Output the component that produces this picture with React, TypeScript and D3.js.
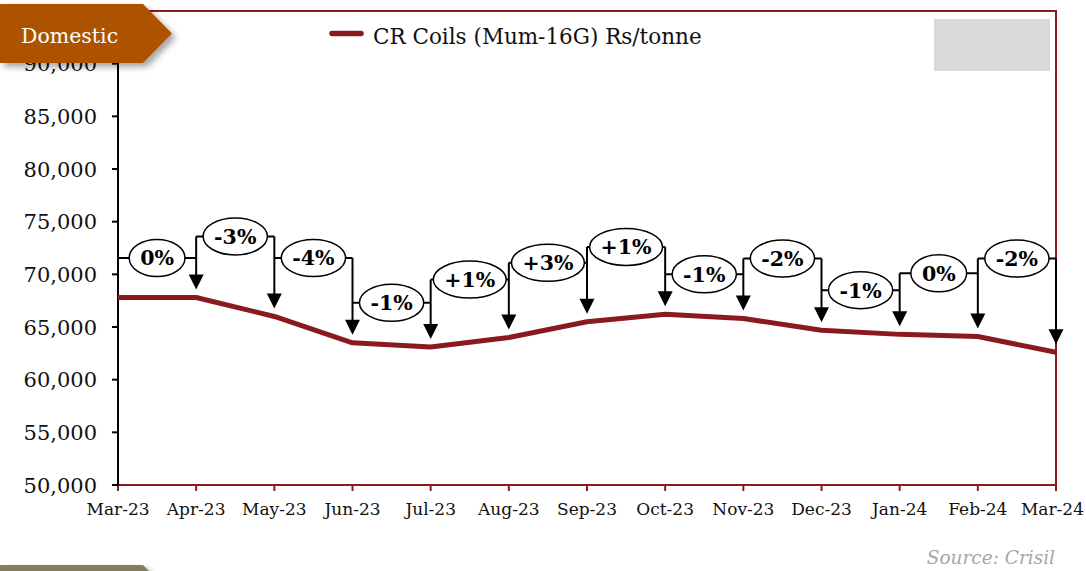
import React, { useEffect, useRef } from "react";
import * as d3 from "d3";

const months = ["Mar-23", "Apr-23", "May-23", "Jun-23", "Jul-23", "Aug-23", "Sep-23", "Oct-23", "Nov-23", "Dec-23", "Jan-24", "Feb-24", "Mar-24"];
const prices = [67800, 67800, 66000, 63500, 63100, 64000, 65500, 66200, 65800, 64700, 64300, 64100, 62600];
const changeLabels = ["0%", "-3%", "-4%", "-1%", "+1%", "+3%", "+1%", "-1%", "-2%", "-1%", "0%", "-2%"];
const labelLevels = [71550, 73600, 71550, 67300, 69500, 71100, 72600, 70000, 71500, 68500, 70100, 71500];
const yTicks = [50000, 55000, 60000, 65000, 70000, 75000, 80000, 85000, 90000];
const seriesName = "CR Coils (Mum-16G) Rs/tonne";

const W = 1086, H = 571;
const FONT = "'DejaVu Serif', Georgia, serif";
const MAROON = "#8A1A20";
const FRAME = "#8E1B1B";

export default function App() {
  const ref = useRef<SVGSVGElement>(null);
  useEffect(() => {
    const svg = d3.select(ref.current);
    svg.selectAll("*").remove();
    const left = 118, right = 1056, top = 11, bottom = 485;
    const x = d3.scalePoint<string>().domain(months).range([left, right]);
    const y = d3.scaleLinear().domain([50000, 95000]).range([bottom, top]);

    const defs = svg.append("defs");
    const f = defs.append("filter").attr("id", "sh").attr("x", "-20%").attr("y", "-20%").attr("width", "150%").attr("height", "160%");
    f.append("feDropShadow").attr("dx", 4).attr("dy", 4).attr("stdDeviation", 3).attr("flood-color", "#000").attr("flood-opacity", 0.35);

    svg.append("rect").attr("width", W).attr("height", H).attr("fill", "#fff");

    // frame
    svg.append("rect").attr("x", left).attr("y", top).attr("width", right - left).attr("height", bottom - top)
      .attr("fill", "none").attr("stroke", FRAME).attr("stroke-width", 2);

    // grey box top right
    svg.append("rect").attr("x", 934).attr("y", 19).attr("width", 116).attr("height", 52).attr("fill", "#D9D9D9");

    // x ticks
    const g = svg.append("g");
    months.forEach((m, i) => {
      const last = i === months.length - 1;
      g.append("line").attr("x1", x(m)!).attr("x2", x(m)!).attr("y1", bottom).attr("y2", bottom + 6)
        .attr("stroke", FRAME).attr("stroke-width", 2);
      g.append("text").attr("x", last ? W - 2 : x(m)!).attr("y", bottom + 30).attr("text-anchor", last ? "end" : "middle")
        .attr("font-family", FONT).attr("font-size", 17).attr("fill", "#111").text(m);
    });

    // y axis
    g.append("line").attr("x1", left).attr("x2", left).attr("y1", top).attr("y2", bottom + 1).attr("stroke", "#000").attr("stroke-width", 2);
    yTicks.forEach((t) => {
      g.append("line").attr("x1", left - 6).attr("x2", left).attr("y1", y(t)).attr("y2", y(t)).attr("stroke", "#000").attr("stroke-width", 2);
      g.append("text").attr("x", 97).attr("y", y(t)).attr("dy", "0.36em").attr("text-anchor", "end")
        .attr("font-family", FONT).attr("font-size", 21).attr("fill", "#111").text(d3.format(",")(t));
    });

    // data line
    const line = d3.line<number>().x((_, i) => x(months[i])!).y((d) => y(d));
    svg.append("path").datum(prices).attr("d", line).attr("fill", "none").attr("stroke", MAROON)
      .attr("stroke-width", 5).attr("stroke-linejoin", "round");

    // annotations
    const ann = svg.append("g");
    const arrowGap = 8, headH = 15, headW = 7.5;
    for (let i = 1; i < months.length; i++) {
      const xi = x(months[i])!;
      const levA = y(labelLevels[i - 1]);
      const levB = i < labelLevels.length ? y(labelLevels[i]) : levA;
      const topY = Math.min(levA, levB);
      const tip = y(prices[i]) - arrowGap;
      ann.append("line").attr("x1", xi).attr("x2", xi).attr("y1", topY).attr("y2", tip - headH + 2)
        .attr("stroke", "#000").attr("stroke-width", 2);
      ann.append("path").attr("d", `M${xi - headW},${tip - headH} L${xi + headW},${tip - headH} L${xi},${tip} Z`).attr("fill", "#000");
    }
    changeLabels.forEach((lab, k) => {
      const x0 = x(months[k])!, x1 = x(months[k + 1])!;
      const ly = y(labelLevels[k]);
      ann.append("line").attr("x1", x0).attr("x2", x1).attr("y1", ly).attr("y2", ly).attr("stroke", "#000").attr("stroke-width", 2);
      const cx = (x0 + x1) / 2;
      const el = ann.append("ellipse").attr("cx", cx).attr("cy", ly).attr("ry", 18.5)
        .attr("fill", "#fff").attr("stroke", "#000").attr("stroke-width", 1.5);
      const t = ann.append("text").attr("x", cx).attr("y", ly).attr("dy", "0.36em").attr("text-anchor", "middle")
        .attr("font-family", FONT).attr("font-weight", "bold").attr("font-size", 20.5).attr("fill", "#000").text(lab);
      const w = (t.node() as SVGTextElement).getComputedTextLength();
      el.attr("rx", w / 2 + 11);
    });

    // legend
    svg.append("line").attr("x1", 332).attr("x2", 361).attr("y1", 33.5).attr("y2", 33.5)
      .attr("stroke", MAROON).attr("stroke-width", 5.5).attr("stroke-linecap", "round");
    svg.append("text").attr("x", 373).attr("y", 44).attr("font-family", FONT).attr("font-size", 21.5)
      .attr("fill", "#111").text(seriesName);

    // banner
    svg.append("path").attr("d", "M0,4 L143,4 L172,33.5 L143,63 L0,63 Z").attr("fill", "#AD5200").attr("filter", "url(#sh)");
    svg.append("text").attr("x", 21).attr("y", 43).attr("font-family", FONT).attr("font-size", 20.5)
      .attr("fill", "#fff").text("Domestic");

    // bottom olive strip
    svg.append("path").attr("d", "M0,565 L143,565 L149,571 L0,571 Z").attr("fill", "#857C64").attr("filter", "url(#sh)");

    // source
    svg.append("text").attr("x", 1055).attr("y", 564).attr("text-anchor", "end").attr("font-family", FONT)
      .attr("font-style", "italic").attr("font-size", 18.5).attr("fill", "#A6A6A6").text("Source: Crisil");
  }, []);
  return (
    <div style={{ position: "absolute", left: 0, top: 0, width: W, height: H }}>
      <svg ref={ref} width={W} height={H} style={{ display: "block" }} />
    </div>
  );
}
